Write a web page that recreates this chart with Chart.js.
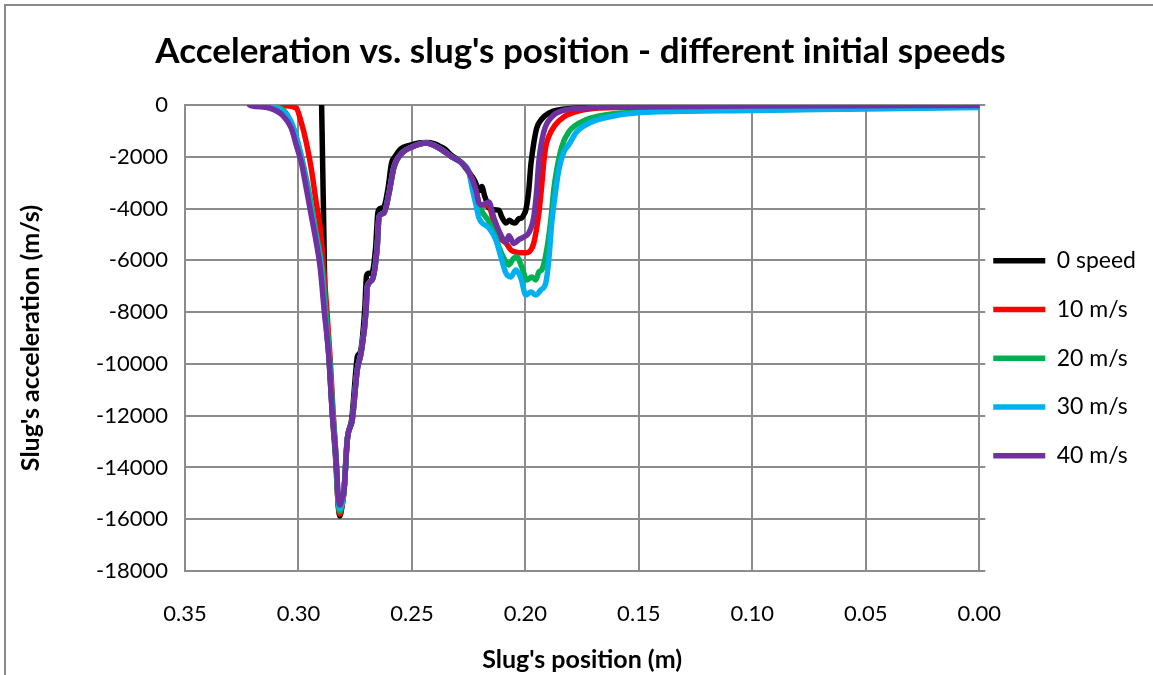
<!DOCTYPE html>
<html>
<head>
<meta charset="utf-8">
<script src="https://cdn.jsdelivr.net/npm/chart.js@4.4.0/dist/chart.umd.min.js"></script>
<style>
  html, body { margin: 0; padding: 0; background: #fff; }
  #wrap { position: relative; width: 1153px; height: 675px; overflow: hidden; }
  #frame { position: absolute; left: 4px; top: 4px; width: 1200px; height: 720px; border: 2px solid #8a8a8a; pointer-events: none; }
</style>
</head>
<body>
<div id="wrap">
  <canvas id="accelChart" width="1153" height="675"></canvas>
  <div id="frame"></div>
</div>
<script>
// Acceleration vs. slug's position
const seriesNames = ['0 speed', '10 m/s', '20 m/s', '30 m/s', '40 m/s'];
const seriesColors = ['#000000', '#ff0000', '#00b050', '#00b0f0', '#7030a0'];
const xTicks = [0.35, 0.30, 0.25, 0.20, 0.15, 0.10, 0.05, 0.00];
const yTicks = [0, -2000, -4000, -6000, -8000, -10000, -12000, -14000, -16000, -18000];

// [position (m), acceleration (m/s)]
const climb = [
  [0.2799, -14860], [0.2785, -12930], [0.2763, -12160], [0.2741, -10230], [0.2724, -9570],
  [0.2702, -7910], [0.2697, -7030], [0.2675, -6750], [0.2653, -5480], [0.2645, -4320],
  [0.2623, -4170], [0.2601, -3400], [0.2579, -2390], [0.2543, -1850], [0.2499, -1620],
  [0.2438, -1470], [0.2381, -1660], [0.2324, -2010], [0.2280, -2240], [0.2249, -2590]
];

const speed0 = [
  [0.2898, 0], [0.2893, -2500], [0.2888, -5000], [0.2884, -7150], [0.2875, -8700],
  [0.2865, -9850], [0.2852, -11780], [0.2836, -13700], [0.2826, -15300], [0.2818, -15880],
  [0.2810, -15600], [0.2799, -14900], [0.2785, -12950], [0.2765, -12100], [0.2745, -10050],
  [0.2740, -9700], [0.2726, -9500], [0.2708, -7900], [0.2700, -6600], [0.2690, -6500],
  [0.2677, -6500], [0.2660, -5500], [0.2650, -4150], [0.2640, -4000], [0.2622, -3900],
  [0.2605, -3200], [0.2590, -2250], [0.2575, -2000], [0.2550, -1700], [0.2510, -1560],
  [0.2470, -1470], [0.2438, -1450], [0.2400, -1500], [0.2381, -1580], [0.2355, -1700],
  [0.2324, -1960], [0.2300, -2100], [0.2280, -2250], [0.2249, -2600], [0.2225, -2900],
  [0.2210, -3200], [0.2201, -3300], [0.2192, -3150], [0.2180, -3500], [0.2170, -3750],
  [0.2161, -3980], [0.2140, -4050], [0.2117, -4060], [0.2104, -4320], [0.2085, -4560],
  [0.2070, -4450], [0.2060, -4520], [0.2045, -4560], [0.2030, -4400], [0.2016, -4360],
  [0.2005, -4200], [0.1998, -4050], [0.1985, -3280], [0.1976, -2320], [0.1963, -1470],
  [0.1950, -890], [0.1928, -540], [0.1897, -310], [0.1853, -190], [0.1735, -110],
  [0.1500, -70], [0.1000, -35], [0.0500, -20], [0.0000, -15]
];

const speed10Start = [
  [0.3200, 0], [0.3060, -30], [0.3010, -120], [0.2988, -660], [0.2966, -1430],
  [0.2944, -2430], [0.2922, -3750], [0.2904, -4750], [0.2891, -6060], [0.2875, -7900],
  [0.2860, -9850], [0.2848, -11780], [0.2834, -13700], [0.2826, -15300], [0.2818, -15800],
  [0.2809, -15500]
];
const speed10End = [
  [0.2218, -3280], [0.2205, -3780], [0.2192, -3860], [0.2161, -3900], [0.2139, -4560],
  [0.2126, -4940], [0.2104, -5210], [0.2086, -5330], [0.2064, -5600], [0.2042, -5680],
  [0.2020, -5710], [0.1998, -5710], [0.1976, -5600], [0.1963, -5330], [0.1941, -4200],
  [0.1928, -3100], [0.1919, -2200], [0.1910, -1600], [0.1897, -1220], [0.1871, -800],
  [0.1831, -460], [0.1760, -220], [0.1650, -110], [0.1000, -50], [0.0500, -35], [0.0000, -25]
];

const speed20Start = [
  [0.3190, 0], [0.3120, -40], [0.3060, -250], [0.3018, -1000], [0.2983, -2150],
  [0.2953, -3400], [0.2922, -4950], [0.2896, -6300], [0.2880, -7900], [0.2862, -9850],
  [0.2849, -11780], [0.2834, -13700], [0.2826, -15250], [0.2818, -15700], [0.2809, -15450]
];
const speed20End = [
  [0.2236, -2950], [0.2218, -3550], [0.2192, -4100], [0.2161, -4500], [0.2139, -4900],
  [0.2117, -5480], [0.2086, -6060], [0.2073, -6180], [0.2051, -5910], [0.2038, -5870],
  [0.2016, -6250], [0.1994, -6760], [0.1972, -6640], [0.1954, -6760], [0.1941, -6450],
  [0.1928, -6370], [0.1906, -5600], [0.1888, -4440], [0.1875, -3280], [0.1862, -2510],
  [0.1840, -1620], [0.1809, -1040], [0.1735, -580], [0.1620, -350], [0.1500, -270],
  [0.1000, -190], [0.0500, -130], [0.0000, -75]
];

const speed30Start = [
  [0.3210, 0], [0.3150, -50], [0.3084, -150], [0.3032, -660], [0.2997, -1660],
  [0.2961, -3200], [0.2930, -4750], [0.2900, -6290], [0.2885, -7900], [0.2864, -9850],
  [0.2851, -11780], [0.2834, -13700], [0.2825, -15200], [0.2817, -15600], [0.2807, -15350]
];
const speed30End = [
  [0.2236, -3150], [0.2218, -3850], [0.2205, -4350], [0.2161, -4750], [0.2130, -5210],
  [0.2108, -5870], [0.2086, -6490], [0.2064, -6640], [0.2042, -6370], [0.2020, -6680],
  [0.1998, -7340], [0.1976, -7220], [0.1954, -7340], [0.1932, -7140], [0.1910, -6870],
  [0.1897, -5990], [0.1884, -4560], [0.1866, -3280], [0.1853, -2510], [0.1831, -1820],
  [0.1809, -1540], [0.1774, -1040], [0.1708, -660], [0.1590, -390], [0.1444, -270],
  [0.1000, -210], [0.0500, -150], [0.0000, -95]
];

const speed40Start = [
  [0.3216, 0], [0.3203, -40], [0.3128, -115], [0.3071, -390], [0.3032, -890],
  [0.3010, -1540], [0.2988, -2200], [0.2966, -3200], [0.2944, -4250], [0.2922, -5290],
  [0.2904, -6290], [0.2887, -7900], [0.2865, -9850], [0.2852, -11780], [0.2834, -13700],
  [0.2825, -15100], [0.2816, -15450], [0.2808, -15200]
];
const speed40End = [
  [0.2218, -3280], [0.2205, -3780], [0.2192, -3860], [0.2161, -3750], [0.2139, -4360],
  [0.2108, -5020], [0.2086, -5300], [0.2073, -5050], [0.2051, -5350], [0.2029, -5200],
  [0.2007, -5100], [0.1985, -4940], [0.1963, -4320], [0.1950, -3280], [0.1941, -2200],
  [0.1919, -1040], [0.1884, -460], [0.1840, -230], [0.1735, -115], [0.1500, -75],
  [0.1000, -40], [0.0500, -25], [0.0000, -20]
];

const series = [
  speed0,
  [...speed10Start, ...climb, ...speed10End],
  [...speed20Start, ...climb, ...speed20End],
  [...speed30Start, ...climb, ...speed30End],
  [...speed40Start, ...climb, ...speed40End]
];

Chart.defaults.font.family = "Lato, 'Open Sans', sans-serif";
Chart.defaults.color = '#000';

const gridColor = '#8c8c8c';
const tickFont = { size: 22 };
const axisTitleFont = { size: 25, weight: 'bold' };

const ctx = document.getElementById('accelChart').getContext('2d');
const accelChart = new Chart(ctx, {
    type: 'line',
    data: {
        datasets: series.map((pts, i) => ({
            label: seriesNames[i],
            data: pts.map(p => ({ x: p[0], y: p[1] })),
            borderColor: seriesColors[i],
            backgroundColor: seriesColors[i],
            borderWidth: 5.5,
            borderCapStyle: 'round',
            borderJoinStyle: 'round',
            pointRadius: 0,
            cubicInterpolationMode: 'monotone',
            fill: false,
            order: 4 - i
        }))
    },
    options: {
        responsive: false,
        animation: false,
        layout: { padding: { left: 15, right: 7, top: 0, bottom: 0 } },
        plugins: {
            title: {
                display: true,
                text: "Acceleration vs. slug's position - different initial speeds",
                font: { size: 35, weight: 'bold' },
                padding: { top: 31, bottom: 32 }
            },
            legend: {
                position: 'right',
                title: { display: true, text: ' ', font: { size: 10, lineHeight: '12px' }, padding: { top: 45, bottom: 0 } },
                labels: {
                    usePointStyle: true,
                    pointStyle: 'line',
                    pointStyleWidth: 52,
                    padding: 10,
                    font: { size: 23, lineHeight: '38.75px' },
                    sort: (a, b) => a.datasetIndex - b.datasetIndex,
                    generateLabels: chart => Chart.defaults.plugins.legend.labels.generateLabels(chart)
                        .map(item => ({ ...item, text: [item.text] }))
                }
            },
            tooltip: { enabled: false }
        },
        scales: {
            x: {
                type: 'linear',
                reverse: true,
                min: 0,
                max: 0.35,
                afterBuildTicks: s => { s.ticks = xTicks.map(v => ({ value: v })); },
                afterFit: s => { s.height = 104; },
                ticks: { font: tickFont, padding: 30, maxRotation: 0, autoSkip: false, callback: v => v.toFixed(2) },
                grid: { color: gridColor, lineWidth: 2, drawTicks: false },
                border: { color: gridColor, width: 2 },
                title: { display: true, text: "Slug's position (m)", font: axisTitleFont, padding: { top: 0, bottom: 0 } }
            },
            y: {
                min: -18000,
                max: 0,
                afterBuildTicks: s => { s.ticks = yTicks.map(v => ({ value: v })); },
                afterFit: s => { s.width = 170; },
                ticks: { font: tickFont, padding: 17, callback: v => String(v) },
                grid: { color: gridColor, lineWidth: 2, drawTicks: false },
                border: { color: gridColor, width: 2 },
                title: { display: true, text: "Slug's acceleration (m/s)", font: axisTitleFont, padding: { top: 1, bottom: 0 } }
            },
            y2: {
                position: 'right',
                min: -18000,
                max: 0,
                afterBuildTicks: s => { s.ticks = yTicks.map(v => ({ value: v })); },
                afterFit: s => { s.width = 4; },
                ticks: { display: false },
                grid: { color: gridColor, lineWidth: 2, drawOnChartArea: false, drawTicks: true, tickLength: 6 },
                border: { color: gridColor, width: 2 }
            }
        }
    }
});
</script>
</body>
</html>
